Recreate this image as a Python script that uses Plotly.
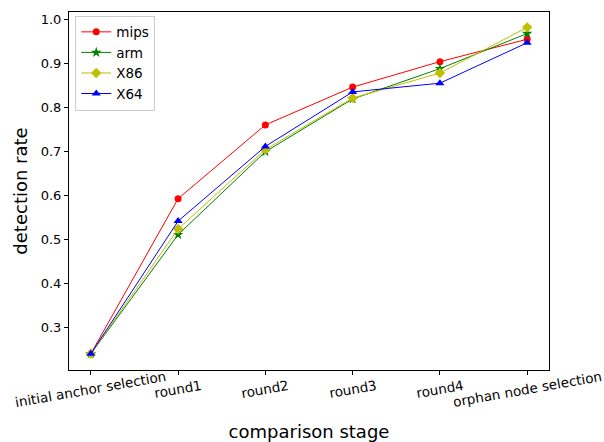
import plotly.graph_objects as go

stages = ["initial anchor selection", "round1", "round2", "round3", "round4", "orphan node selection"]
mips = [0.240, 0.593, 0.761, 0.847, 0.905, 0.956]
arm = [0.240, 0.511, 0.700, 0.820, 0.889, 0.969]
x86 = [0.240, 0.524, 0.705, 0.822, 0.879, 0.983]
x64 = [0.240, 0.542, 0.712, 0.836, 0.856, 0.948]

xpos = list(range(len(stages)))

series = [
    ("mips", mips, "#ff0000", "circle", 7),
    ("arm", arm, "#008000", "star", 8),
    ("X86", x86, "#bfbf00", "diamond", 8),
    ("X64", x64, "#0000ff", "triangle-up", 8),
]

fig = go.Figure()
for name, vals, col, sym, sz in series:
    fig.add_trace(go.Scatter(
        x=xpos, y=vals, name=name, mode="lines+markers",
        line=dict(color=col, width=1),
        marker=dict(color=col, symbol=sym, size=sz, line=dict(width=0)),
    ))

for xp, lab in zip(xpos, stages):
    fig.add_annotation(
        x=xp, y=0, xref="x", yref="paper", text=lab, showarrow=False,
        textangle=-10, xanchor="center", yanchor="middle", yshift=-19,
        font=dict(size=13.5, family="DejaVu Sans", color="black"),
    )

fig.update_layout(
    width=604, height=442,
    margin=dict(l=69, r=55, t=12, b=72),
    plot_bgcolor="white", paper_bgcolor="white",
    font=dict(family="DejaVu Sans", color="black", size=13),
    showlegend=True,
    legend=dict(x=0.013, y=0.99, xanchor="left", yanchor="top",
                bordercolor="#cccccc", borderwidth=1, bgcolor="rgba(255,255,255,0.8)",
                font=dict(size=13.5), tracegroupgap=0, itemwidth=30),
)
fig.update_xaxes(
    range=[-0.25, 5.25], tickvals=xpos, ticktext=["" for _ in stages],
    showline=True, linecolor="black", linewidth=1, mirror=True,
    ticks="outside", ticklen=4, tickcolor="black", showgrid=False, zeroline=False,
    automargin=False,
    title=dict(text="comparison stage", font=dict(size=18), standoff=49),
)
fig.update_yaxes(
    range=[0.203, 1.018], tickvals=[0.3, 0.4, 0.5, 0.6, 0.7, 0.8, 0.9, 1.0],
    tickformat=".1f",
    showline=True, linecolor="black", linewidth=1, mirror=True,
    ticks="outside", ticklen=4, tickcolor="black", showgrid=False, zeroline=False,
    automargin=False,
    title=dict(text="detection rate", font=dict(size=18), standoff=8),
    tickfont=dict(size=13),
)

fig.write_html("out.html")
